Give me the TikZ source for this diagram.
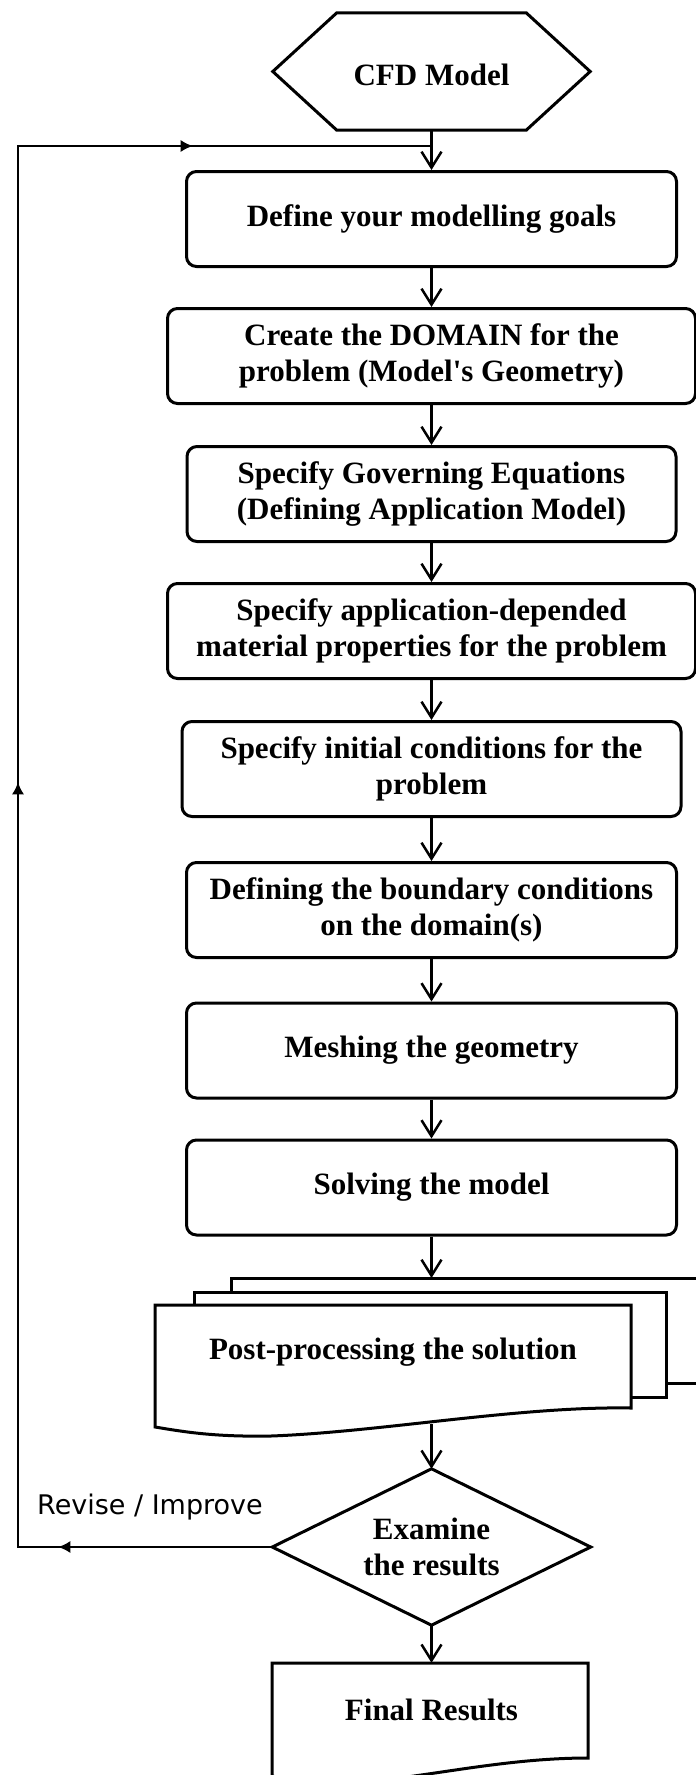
\documentclass[tikz,border=0pt]{standalone}
\usepackage{fontspec}
\setmainfont{Liberation Serif}
\newfontfamily\revfont{DejaVu Sans}
\font\apfont="Liberation Serif Bold" at 31pt
\usetikzlibrary{arrows.meta,decorations.markings}
\begin{document}
\begin{tikzpicture}[x=1pt,y=-1pt,
  boxnode/.style={draw, line width=3pt, rounded corners=10pt, minimum height=95pt, align=center, inner sep=0pt, font=\bfseries\fontsize{31}{36}\selectfont},
  txt/.style={align=center, inner sep=0pt, font=\bfseries\fontsize{31}{36}\selectfont},
  shapeline/.style={line width=3pt, line join=miter},
  docline/.style={line width=3pt, line join=miter, fill=white},
  conn/.style={line width=2.5pt, -{Straight Barb[length=16pt,width=20pt]}},
  fbline/.style={line width=1.5pt, postaction={decorate}, decoration={markings,
     mark=at position 214pt with {\arrow{Latex[length=12pt,width=12pt]}},
     mark=at position 1019pt with {\arrow{Latex[length=12pt,width=12pt]}},
     mark=at position 1830pt with {\arrow{Latex[length=12pt,width=12pt]}}}}
]
\useasboundingbox (0,0) rectangle (696,1775);
\clip (0,0) rectangle (696,1775);

% start hexagon
\node[inner sep=0pt, minimum width=317pt, minimum height=117pt] (cfd) at (431.5,71.5) {};
\draw[shapeline] (cfd.west) -- ([xshift=64pt]cfd.north west) -- ([xshift=-64pt]cfd.north east)
  -- (cfd.east) -- ([xshift=-64pt]cfd.south east) -- ([xshift=64pt]cfd.south west) -- cycle;
\node[txt, anchor=base] (cfdtext) at (431.5,85) {CFD Model};

% process boxes
\node[boxnode, minimum width=490pt] (b1) at (431.5,219) {Define your modelling goals};
\node[boxnode, minimum width=528pt] (b2) at (431.5,356) {Create the DOMAIN for the\\problem (Model{\apfont'}s Geometry)};
\node[boxnode, minimum width=489pt] (b3) at (431.5,494) {Specify Governing Equations\\(Defining Application Model)};
\node[boxnode, minimum width=528pt] (b4) at (431.5,631) {Specify application-depended\\material properties for the problem};
\node[boxnode, minimum width=499pt] (b5) at (431.5,769) {Specify initial conditions for the\\problem};
\node[boxnode, minimum width=490pt] (b6) at (431.5,910) {Defining the boundary conditions\\on the domain(s)};
\node[boxnode, minimum width=490pt] (b7) at (431.5,1050.5) {Meshing the geometry};
\node[boxnode, minimum width=490pt] (b8) at (431.5,1187.5) {Solving the model};

% multi-document
\draw[docline] (231,1383) -- (231,1278) -- (720,1278) -- (720,1383) -- cycle;
\draw[docline] (194,1292) rectangle (666,1397);
\draw[docline] (155,1305) -- (631,1305) -- (631,1408)
  .. controls (520,1406) and (380,1432) .. (271,1436)
  .. controls (215,1437) and (185,1432) .. (155,1427) -- cycle;
\node[txt] (post) at (393,1352) {Post-processing the solution};
\coordinate (backT) at (431.5,1278);
\coordinate (postB) at (431.5,1424);

% decision
\node[txt, minimum width=318pt, minimum height=156pt] (dia) at (431.5,1547) {Examine\\the results};
\draw[shapeline] (dia.north) -- (dia.east) -- (dia.south) -- (dia.west) -- cycle;

% final document
\draw[docline] (272,1663) -- (588,1663) -- (588,1758)
  .. controls (500,1758) and (420,1779) .. (349,1783)
  .. controls (310,1785) and (290,1780) .. (272,1776) -- cycle;
\node[txt, minimum width=316pt, minimum height=94pt] (fin) at (431.5,1710) {Final Results};

% connectors
\draw[conn] (cfd.south) -- (b1.north);
\draw[conn] (b1.south) -- (b2.north);
\draw[conn] (b2.south) -- (b3.north);
\draw[conn] (b3.south) -- (b4.north);
\draw[conn] (b4.south) -- (b5.north);
\draw[conn] (b5.south) -- (b6.north);
\draw[conn] (b6.south) -- (b7.north);
\draw[conn] (b7.south) -- (b8.north);
\draw[conn] (b8.south) -- (backT);
\draw[conn] (postB) -- (dia.north);
\draw[conn] (dia.south) -- (fin.north);

% feedback loop
\coordinate (fbL) at (18,1547);
\coordinate (fbT) at (18,146);
\coordinate (fbJ) at (431.5,146);
\draw[fbline] (dia.west) -- (fbL) -- (fbT) -- (fbJ);
\node[font=\revfont\fontsize{27}{32}\selectfont, anchor=base west, inner sep=0pt] (rev) at (37,1514) {Revise / Improve};
\end{tikzpicture}
\end{document}
